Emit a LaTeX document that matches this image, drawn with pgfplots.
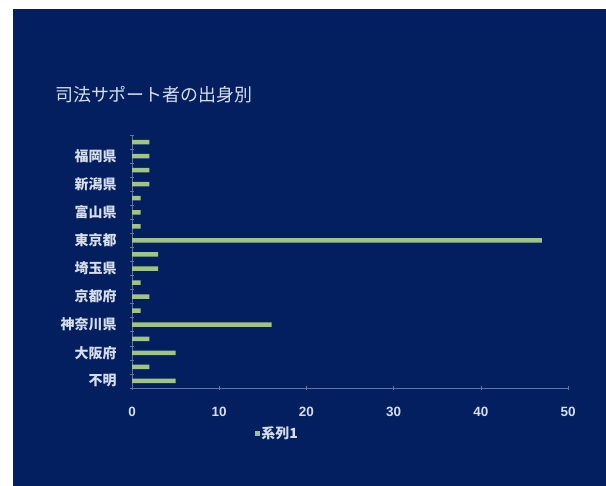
\documentclass[border=0pt]{standalone}
\usepackage{pgfplots}
\pgfplotsset{compat=1.18}
\usepackage{fontspec}
\setmainfont{Liberation Sans}
\newfontfamily\cjk{Noto Sans CJK JP}
\definecolor{navy}{RGB}{3,31,96}
\definecolor{bargreen}{RGB}{160,196,132}
\definecolor{axisc}{RGB}{95,115,165}
\definecolor{labc}{RGB}{215,222,235}
\begin{document}
\begin{tikzpicture}[x=1bp,y=1bp]
\useasboundingbox (0,0) rectangle (606,486);
\fill[white] (0,0) rectangle (606,486);
\fill[navy] (13,0) rectangle (606,477);
\node[anchor=west, text=labc, font=\cjk\fontsize{18}{22}\selectfont, inner sep=0] at (55,391) {司法サポート者の出身別};
\begin{axis}[
  at={(132bp,98bp)}, anchor=south west, scale only axis,
  width=436bp, height=253bp,
  xmin=0, xmax=50, ymin=0.5, ymax=18.5,
  xbar, bar width=4.5bp, bar shift=0pt,
  axis x line*=bottom, axis y line*=left,
  axis line style={axisc, line width=0.8pt, -},
  xtick={0,10,...,50},
  ytick={0.5,1.5,...,18.5}, yticklabels={},
  extra y ticks={1,2,...,18},
  extra y tick labels={不明,,大阪府,,神奈川県,,京都府,,埼玉県,,東京都,,富山県,,新潟県,,福岡県,},
  extra y tick style={tick style={draw=none}},
  tick style={axisc, line width=0.6pt},
  major tick length=4bp, tick align=center,
  /pgf/number format/assume math mode=true,
  xticklabel style={text=labc, font=\fontsize{13.5}{15}\selectfont\bfseries, yshift=-14bp},
  yticklabel style={text=labc, font=\cjk\fontsize{14}{16}\selectfont\bfseries, xshift=-10bp},
  legend style={at={(0.333,-0.178)}, anchor=center, draw=none, fill=none,
    font=\cjk\fontsize{14}{16}\selectfont\bfseries, text=labc, inner sep=0pt},
  legend image code/.code={\fill[bargreen] (0bp,-2.5bp) rectangle (5bp,2.5bp);},
]
\addplot[fill=bargreen, draw=none] coordinates {
(5,1) (2,2) (5,3) (2,4) (16,5) (1,6) (2,7) (1,8) (3,9) (3,10)
(47,11) (1,12) (1,13) (1,14) (2,15) (2,16) (2,17) (2,18)};
\addlegendentry{系列1}
\end{axis}
\end{tikzpicture}
\end{document}
